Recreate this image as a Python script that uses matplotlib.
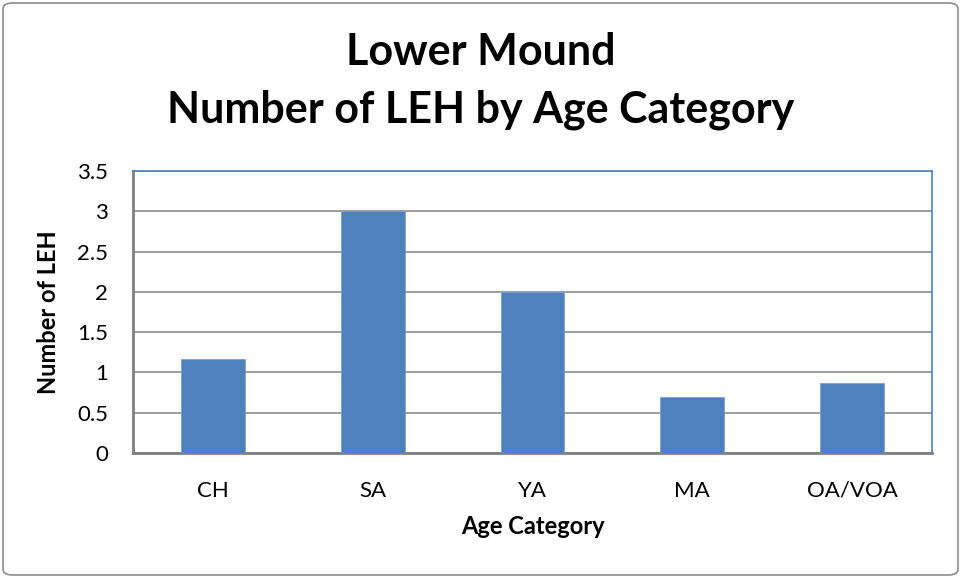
import matplotlib.pyplot as plt
from matplotlib.patches import FancyBboxPatch

categories = ["CH", "SA", "YA", "MA", "OA/VOA"]
values = [1.17, 3.0, 2.0, 0.69, 0.87]
yticks = [0, 0.5, 1, 1.5, 2, 2.5, 3, 3.5]
ytick_labels = ["0", "0.5", "1", "1.5", "2", "2.5", "3", "3.5"]

plt.rcParams['font.family'] = ['Lato', 'DejaVu Sans']

fig = plt.figure(figsize=(9.61, 5.78), dpi=100)
ax = fig.add_axes([133 / 961, 1 - 453 / 578, (932 - 133) / 961, (453 - 171) / 578])

x = list(range(len(categories)))
ax.bar(x, values, width=0.4, color="#4f81bd", edgecolor="#7ea1d3", linewidth=0.6, zorder=3)

ax.set_xlim(-0.5, len(categories) - 0.5)
ax.set_ylim(0, 3.5)
ax.set_yticks(yticks)
ax.set_yticklabels(ytick_labels)
ax.set_xticks(x)
ax.set_xticklabels(categories)
ax.tick_params(axis="both", length=0, labelsize=16, colors="black")
ax.tick_params(axis="x", pad=20)
ax.tick_params(axis="y", pad=18)
ax.yaxis.grid(True, color="#8c8c8c", linewidth=1.2, zorder=0)

for s in ["top", "right"]:
    ax.spines[s].set_color("#4f81bd")
    ax.spines[s].set_linewidth(1.2)
for s in ["left", "bottom"]:
    ax.spines[s].set_color("#808080")
    ax.spines[s].set_linewidth(2)

ax.set_xlabel("Age Category", fontsize=17, fontweight="bold", labelpad=10)
ax.set_ylabel("Number of LEH", fontsize=17, fontweight="bold", labelpad=12)

fig.text(0.5, 1 - 52 / 578, "Lower Mound", ha="center", va="center",
         fontsize=31, fontweight="bold")
fig.text(0.5, 1 - 110 / 578, "Number of LEH by Age Category", ha="center", va="center",
         fontsize=31, fontweight="bold")

border = FancyBboxPatch((3 / 961, 3 / 578), 955 / 961, 572 / 578,
                        boxstyle="round,pad=0,rounding_size=0.01",
                        transform=fig.transFigure, fill=False,
                        edgecolor="#8c8c8c", linewidth=1.2)
fig.patches.append(border)

fig.savefig("out.png", dpi=100)
